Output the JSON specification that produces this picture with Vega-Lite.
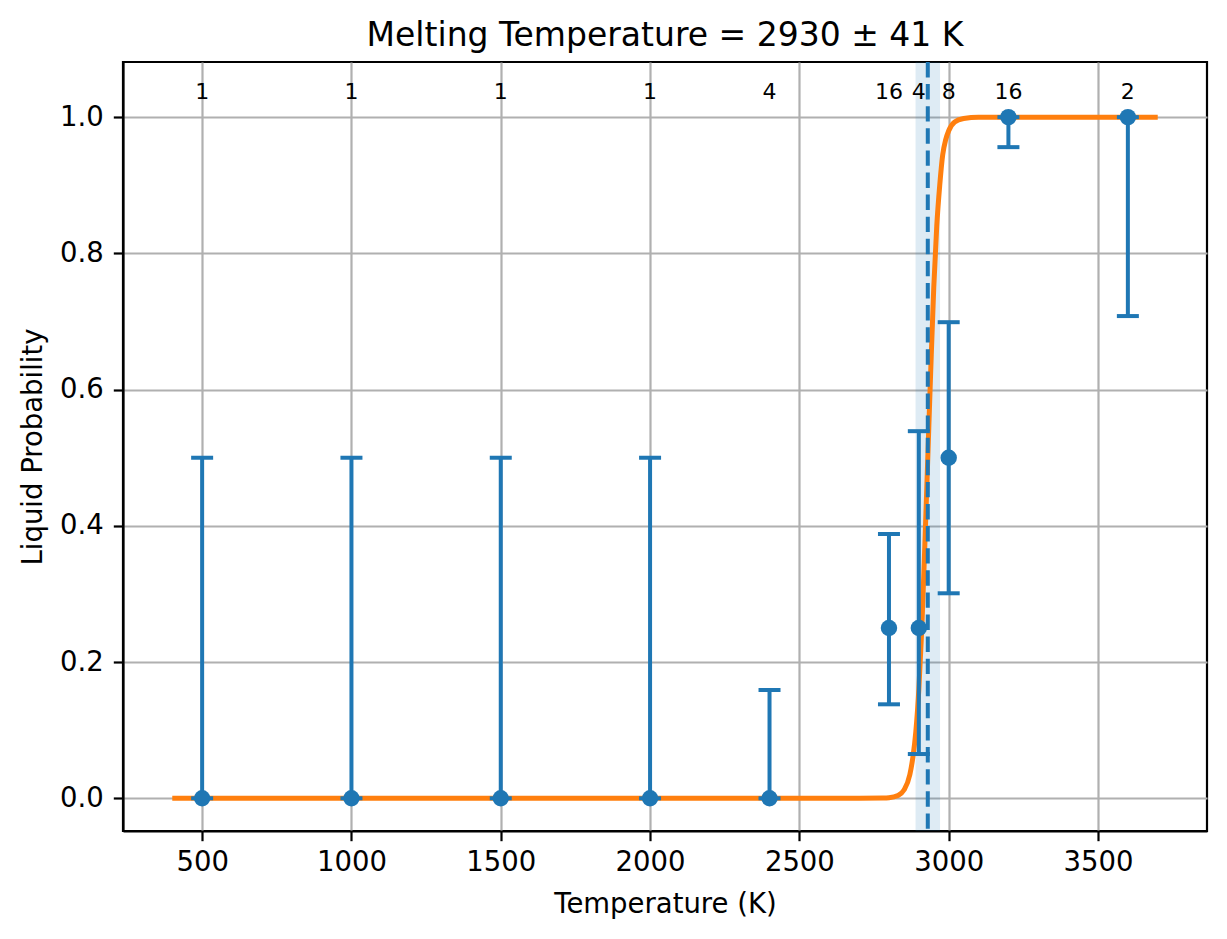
{
  "$schema": "https://vega.github.io/schema/vega-lite/v6.json",
  "width": 1084,
  "height": 769,
  "autosize": "none",
  "padding": {"left": 123, "top": 62, "right": 20, "bottom": 108},
  "background": "white",
  "title": {
    "text": "Melting Temperature = 2930 ± 41 K",
    "font": "DejaVu Sans",
    "fontSize": 33,
    "fontWeight": "normal",
    "color": "black",
    "offset": 7
  },
  "config": {
    "font": "DejaVu Sans",
    "view": {"stroke": "black", "strokeWidth": 2.2},
    "axis": {
      "domainColor": "black",
      "domainWidth": 2.2,
      "tickColor": "black",
      "tickWidth": 2.2,
      "tickSize": 9.7,
      "gridColor": "#b0b0b0",
      "gridWidth": 2.2,
      "labelFont": "DejaVu Sans",
      "labelFontSize": 27.5,
      "labelColor": "black",
      "titleFont": "DejaVu Sans",
      "titleFontSize": 27.5,
      "titleFontWeight": "normal",
      "titleColor": "black"
    }
  },
  "datasets": {
    "points": [
      {"T": 500, "p": 0.0, "lo": 0.0, "hi": 0.5, "n": "1"},
      {"T": 1000, "p": 0.0, "lo": 0.0, "hi": 0.5, "n": "1"},
      {"T": 1500, "p": 0.0, "lo": 0.0, "hi": 0.5, "n": "1"},
      {"T": 2000, "p": 0.0, "lo": 0.0, "hi": 0.5, "n": "1"},
      {"T": 2400, "p": 0.0, "lo": 0.0, "hi": 0.159, "n": "4"},
      {"T": 2800, "p": 0.25, "lo": 0.138, "hi": 0.388, "n": "16"},
      {"T": 2900, "p": 0.25, "lo": 0.065, "hi": 0.539, "n": "4"},
      {"T": 3000, "p": 0.5, "lo": 0.301, "hi": 0.699, "n": "8"},
      {"T": 3200, "p": 1.0, "lo": 0.956, "hi": 1.0, "n": "16"},
      {"T": 3600, "p": 1.0, "lo": 0.708, "hi": 1.0, "n": "2"}
    ],
    "curve": [
      {"T": 400, "p": 0.0},
      {"T": 1000, "p": 0.0},
      {"T": 2000, "p": 0.0},
      {"T": 2700, "p": 0.0},
      {"T": 2780, "p": 0.0003},
      {"T": 2800, "p": 0.0007},
      {"T": 2830, "p": 0.004},
      {"T": 2850, "p": 0.012},
      {"T": 2870, "p": 0.035},
      {"T": 2880, "p": 0.06},
      {"T": 2890, "p": 0.098},
      {"T": 2900, "p": 0.16},
      {"T": 2910, "p": 0.25},
      {"T": 2920, "p": 0.37},
      {"T": 2930, "p": 0.5},
      {"T": 2940, "p": 0.63},
      {"T": 2950, "p": 0.75},
      {"T": 2960, "p": 0.84},
      {"T": 2970, "p": 0.9},
      {"T": 2980, "p": 0.945},
      {"T": 2990, "p": 0.967},
      {"T": 3000, "p": 0.98},
      {"T": 3020, "p": 0.993},
      {"T": 3050, "p": 0.998},
      {"T": 3100, "p": 1.0},
      {"T": 3700, "p": 1.0}
    ],
    "melt": [
      {"Tm": 2930, "lo": 2889, "hi": 2971}
    ]
  },
  "encoding": {
    "x": {
      "type": "quantitative",
      "scale": {"domain": [235, 3865], "nice": false, "zero": false},
      "axis": {
        "title": "Temperature (K)",
        "values": [500, 1000, 1500, 2000, 2500, 3000, 3500],
        "format": "d",
        "labelPadding": 8,
        "titlePadding": 14
      }
    },
    "y": {
      "type": "quantitative",
      "scale": {"domain": [-0.048, 1.081], "nice": false, "zero": false},
      "axis": {
        "title": "Liquid Probability",
        "values": [0, 0.2, 0.4, 0.6, 0.8, 1.0],
        "format": ".1f",
        "labelPadding": 10,
        "titlePadding": 12
      }
    }
  },
  "layer": [
    {
      "data": {"name": "melt"},
      "mark": {"type": "rect", "color": "#1f77b4", "opacity": 0.15},
      "encoding": {
        "x": {"field": "lo", "type": "quantitative"},
        "x2": {"field": "hi"}
      }
    },
    {
      "data": {"name": "curve"},
      "mark": {"type": "line", "color": "#ff7f0e", "strokeWidth": 5, "interpolate": "monotone"},
      "encoding": {
        "x": {"field": "T", "type": "quantitative"},
        "y": {"field": "p", "type": "quantitative"}
      }
    },
    {
      "data": {"name": "points"},
      "mark": {
        "type": "errorbar",
        "color": "#1f77b4",
        "rule": {"strokeWidth": 4, "opacity": 1},
        "ticks": {"size": 22, "thickness": 4, "color": "#1f77b4", "opacity": 1}
      },
      "encoding": {
        "x": {"field": "T", "type": "quantitative"},
        "y": {"field": "lo", "type": "quantitative"},
        "y2": {"field": "hi"}
      }
    },
    {
      "data": {"name": "points"},
      "mark": {"type": "point", "shape": "circle", "filled": true, "size": 270, "opacity": 1, "color": "#1f77b4"},
      "encoding": {
        "x": {"field": "T", "type": "quantitative"},
        "y": {"field": "p", "type": "quantitative"}
      }
    },
    {
      "data": {"name": "melt"},
      "mark": {"type": "rule", "color": "#1f77b4", "strokeWidth": 4, "strokeDash": [15.4, 6.7]},
      "encoding": {
        "x": {"field": "Tm", "type": "quantitative"}
      }
    },
    {
      "data": {"name": "points"},
      "mark": {"type": "text", "fontSize": 22, "color": "black", "baseline": "middle", "align": "center", "font": "DejaVu Sans"},
      "encoding": {
        "x": {"field": "T", "type": "quantitative"},
        "y": {"datum": 1.037},
        "text": {"field": "n"}
      }
    }
  ]
}
